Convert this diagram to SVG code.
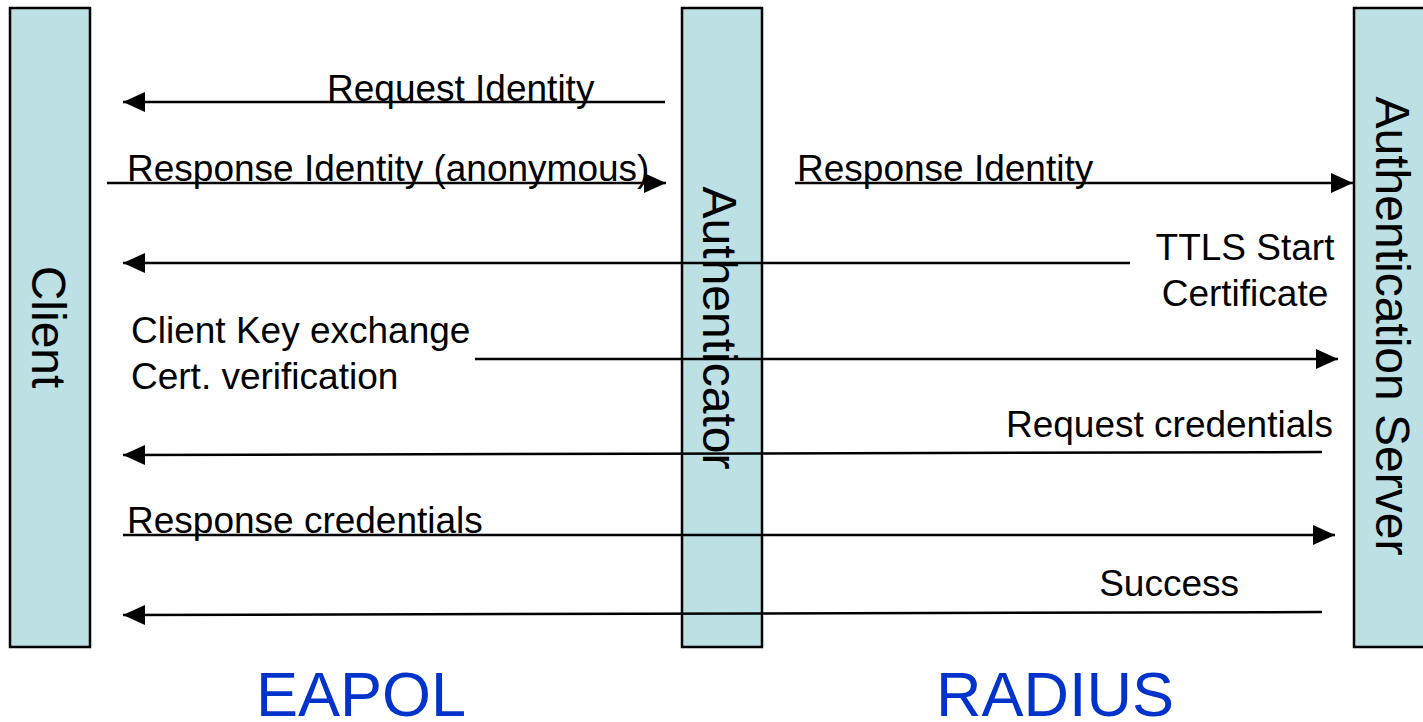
<svg xmlns="http://www.w3.org/2000/svg" width="1423" height="722" viewBox="0 0 1423 722">
  <style>
    .bar { fill: #bce0e3; stroke: #000; stroke-width: 2.5; }
    .vlabel { font-family: "Liberation Sans", Arial, sans-serif; font-size: 48px; fill: #000; text-anchor: middle; }
    .lbl { font-family: "Liberation Sans", Arial, sans-serif; font-size: 37px; fill: #000; }
    .proto { font-family: "Liberation Sans", Arial, sans-serif; font-size: 63px; fill: #0033cc; }
    .msg { stroke: #000; stroke-width: 2.5; fill: none; marker-end: url(#arrow); }
  </style>
  <defs>
    <marker id="arrow" markerUnits="userSpaceOnUse" markerWidth="22" markerHeight="20" refX="22" refY="10" orient="auto">
      <path d="M0,0 L22,10 L0,20 Z" fill="#000"/>
    </marker>
  </defs>
  <rect width="1423" height="722" fill="#fff"/>

  <g id="client">
    <rect class="bar" x="10" y="8" width="80" height="639"/>
    <text class="vlabel" transform="translate(32,327) rotate(90)">Client</text>
  </g>
  <g id="authenticator">
    <rect class="bar" x="682" y="8" width="80" height="639"/>
  </g>
  <g id="auth-server">
    <rect class="bar" x="1354" y="8" width="80" height="639"/>
    <text class="vlabel" transform="translate(1376,326) rotate(90)">Authentication Server</text>
  </g>

  <g id="connectors">
    <line class="msg" x1="665" y1="102" x2="123" y2="102"/>
    <line class="msg" x1="107" y1="183" x2="666" y2="183"/>
    <line class="msg" x1="795" y1="183" x2="1353" y2="183"/>
    <line class="msg" x1="1130" y1="263" x2="123" y2="263"/>
    <line class="msg" x1="475" y1="359" x2="1338" y2="359"/>
    <line class="msg" x1="1322" y1="452" x2="123" y2="455"/>
    <line class="msg" x1="123" y1="535" x2="1335" y2="535"/>
    <line class="msg" x1="1322" y1="612" x2="123" y2="615"/>
  </g>

  <g id="authenticator-label">
    <text class="vlabel" transform="translate(703,328) rotate(90)">Authenticator</text>
  </g>

  <g id="labels">
    <text class="lbl" x="327" y="101">Request Identity</text>
    <text class="lbl" x="127" y="181">Response Identity (anonymous)</text>
    <text class="lbl" x="797" y="181">Response Identity</text>
    <text class="lbl" x="1245" y="260" text-anchor="middle">TTLS Start</text>
    <text class="lbl" x="1245" y="306" text-anchor="middle">Certificate</text>
    <text class="lbl" x="131" y="343">Client Key exchange</text>
    <text class="lbl" x="131" y="389">Cert. verification</text>
    <text class="lbl" x="1333" y="437" text-anchor="end">Request credentials</text>
    <text class="lbl" x="127" y="533">Response credentials</text>
    <text class="lbl" x="1239" y="596" text-anchor="end">Success</text>
  </g>

  <g id="protocols">
    <text class="proto" x="256" y="716">EAPOL</text>
    <text class="proto" x="936" y="716">RADIUS</text>
  </g>
</svg>
